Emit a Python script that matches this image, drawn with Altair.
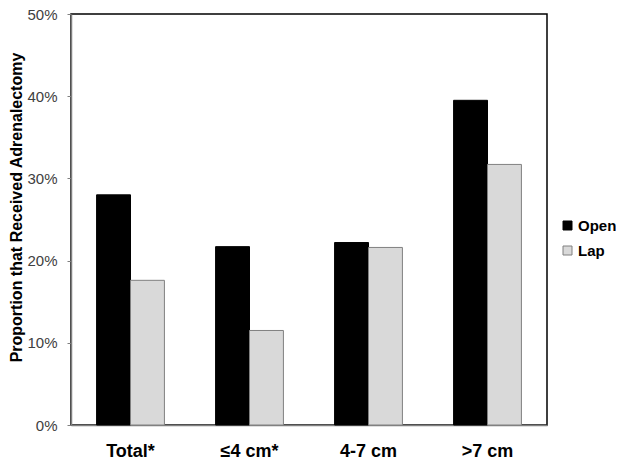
import altair as alt
import pandas as pd

categories = ["Total*", "≤4 cm*", "4-7 cm", ">7 cm"]
series = ["Open", "Lap"]
open_vals = [0.280, 0.217, 0.222, 0.395]
lap_vals = [0.176, 0.115, 0.216, 0.317]

rows = []
for c, o, l in zip(categories, open_vals, lap_vals):
    rows.append({"cat": c, "series": "Open", "value": o})
    rows.append({"cat": c, "series": "Lap", "value": l})
df = pd.DataFrame(rows)

FONT = "Liberation Sans"

chart = alt.Chart(df).mark_bar(strokeWidth=1).encode(
    x=alt.X("cat:N", sort=categories,
            scale=alt.Scale(paddingInner=0.43, paddingOuter=0.215),
            axis=alt.Axis(title=None, labelAngle=0, labelFont=FONT, labelFontSize=18,
                          labelFontWeight="bold", labelColor="#000000", ticks=False,
                          labelPadding=17, domainColor="#808080", domainWidth=1.5)),
    xOffset=alt.XOffset("series:N", sort=series),
    y=alt.Y("value:Q", scale=alt.Scale(domain=[0, 0.5]),
            axis=alt.Axis(title="Proportion that Received Adrenalectomy", format=".0%",
                          values=[0, 0.1, 0.2, 0.3, 0.4, 0.5], grid=False,
                          labelFont=FONT, labelFontSize=15, labelColor="#404040",
                          labelPadding=10, tickSize=4, tickColor="#808080",
                          domainColor="#808080", domainWidth=1.5,
                          titleFont=FONT, titleFontSize=16, titleFontWeight="bold",
                          titleColor="#000000", titleX=-50, titleY=193,
                          titleAngle=-90, titleAlign="center", titleBaseline="alphabetic")),
    color=alt.Color("series:N", sort=series,
                    scale=alt.Scale(domain=series, range=["#000000", "#d9d9d9"]),
                    legend=alt.Legend(title=None, orient="none", legendX=489, legendY=204,
                                      symbolType="square", symbolSize=81,
                                      symbolStrokeColor="#808080", symbolStrokeWidth=1,
                                      labelFont=FONT, labelFontSize=15, labelFontWeight="bold",
                                      labelColor="#000000", labelOffset=3, rowPadding=9,
                                      padding=0)),
    stroke=alt.Stroke("series:N", sort=series,
                      scale=alt.Scale(domain=series, range=["#000000", "#808080"]),
                      legend=None),
).properties(
    width=476, height=411,
    autosize=alt.AutoSizeParams(type="none"),
    padding={"left": 63, "top": 6, "right": 69, "bottom": 35},
).configure_view(stroke="#000000", strokeWidth=1.5)

chart.save("out.html", embed_options={"renderer": "svg", "actions": False})
